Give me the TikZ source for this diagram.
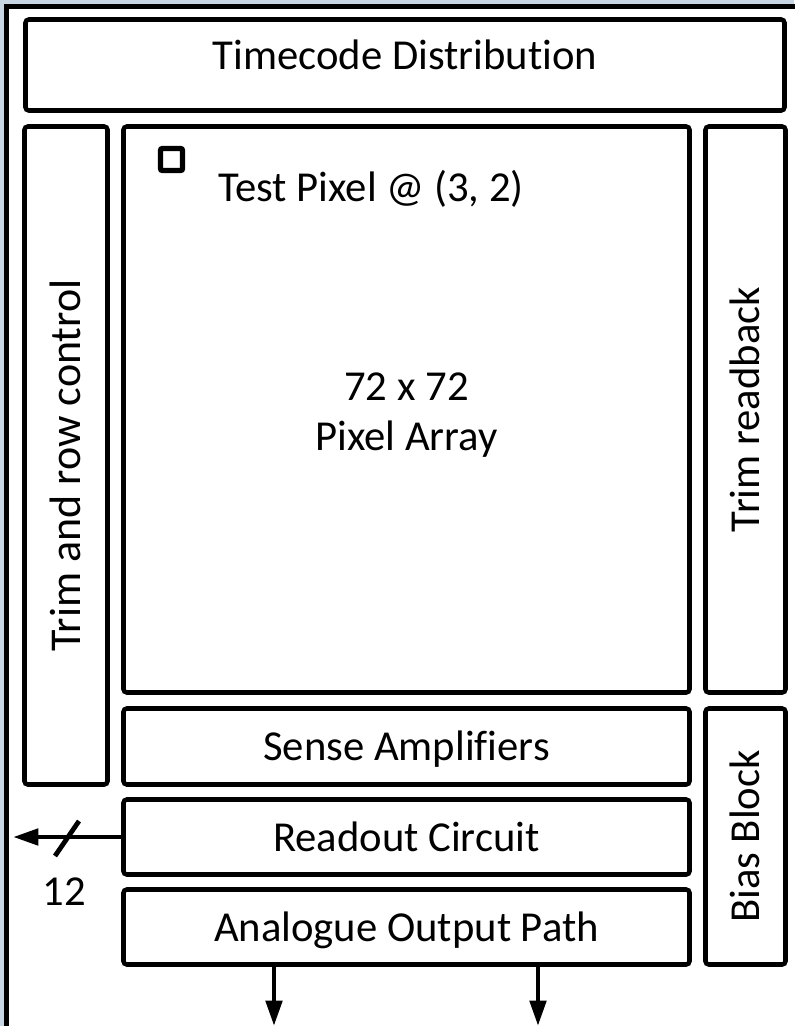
\documentclass[tikz,border=0pt]{standalone}
\usepackage{fontspec}
\setmainfont{Carlito}[Ligatures=NoCommon]
\usetikzlibrary{arrows.meta}
\definecolor{slateback}{RGB}{200,213,227}
\tikzset{
    frame/.style={draw, line width=3.4pt, rounded corners=2.5pt, fill=white, inner sep=0pt},
    block/.style={frame, align=center, text height=28pt, text depth=6.4pt},
    signal/.style={line width=3.6pt, -{Triangle[length=19pt, width=12pt]}},
    common settings/.style={
        x=0.75pt,
        y=-0.75pt,
        font=\fontsize{32}{37}\selectfont
    }
}

\begin{document}
\begin{tikzpicture}[common settings]

    \def\unit{0.75pt}   % one pixel of the layout

    % Canvas and outer frame
    \useasboundingbox (0,0) rectangle (794,1026);
    \fill[slateback] (0,0) rectangle (794,1026);
    \draw[line width=4pt, fill=white] (6.5,6.5) rectangle (900,1100);

    % Top strip
    \node[block, text height=19.2pt, text depth=13.2pt, minimum width=759*\unit, minimum height=91*\unit] (timecode) at (405,65) {Timecode Distribution};

    % Side columns
    \node[frame, rotate=90, minimum width=658*\unit, minimum height=83*\unit] (rowctrl) at (66,455.5) {};
    \node[rotate=90, inner sep=0pt, text height=28.5pt, text depth=6.5pt, font=\fontsize{33}{38}\selectfont] (rowctrllbl) at (66,465.5) {Trim and row control};
    \node[block, rotate=90, minimum width=566*\unit, minimum height=80*\unit] (readback) at (745.5,409.5) {Trim readback};
    \node[block, rotate=90, minimum width=256*\unit, minimum height=80*\unit] (bias) at (745.5,836.5) {Bias Block};

    % Pixel array with the test pixel
    \node[frame, minimum width=566*\unit, minimum height=566*\unit] (array) at (406.5,409.5) {};
    \node[anchor=base, align=center, inner sep=0pt] (arraylbl) at (406.5,450) {72 x 72\\Pixel Array};
    \node[frame, line width=4pt, rounded corners=1.5pt, minimum size=22*\unit] (testpix) at (171.5,159.5) {};
    \node[anchor=base west, inner sep=0pt] (testlbl) at (218,201) {Test Pixel @ (3, 2)};

    % Readout chain
    \node[block, minimum width=566*\unit, minimum height=76*\unit] (senseamp) at (406.5,746.5) {Sense Amplifiers};
    \node[block, minimum width=566*\unit, minimum height=75*\unit] (readout) at (406.5,837) {Readout Circuit};
    \node[block, minimum width=566*\unit, minimum height=75*\unit] (analogue) at (406.5,927) {Analogue Output Path};

    % Digital bus out
    \coordinate (busout) at (13,837);
    \draw[signal] (readout.west) -- (busout);
    \draw[line width=3.6pt] (55,856) -- (79,821);
    \node (buswidth) at (64,892) {12};

    % Analogue outputs
    \coordinate (outa) at (274,1026);
    \coordinate (outb) at (538,1026);
    \draw[signal] (analogue.south -| outa) -- (outa);
    \draw[signal] (analogue.south -| outb) -- (outb);

\end{tikzpicture}
\end{document}
